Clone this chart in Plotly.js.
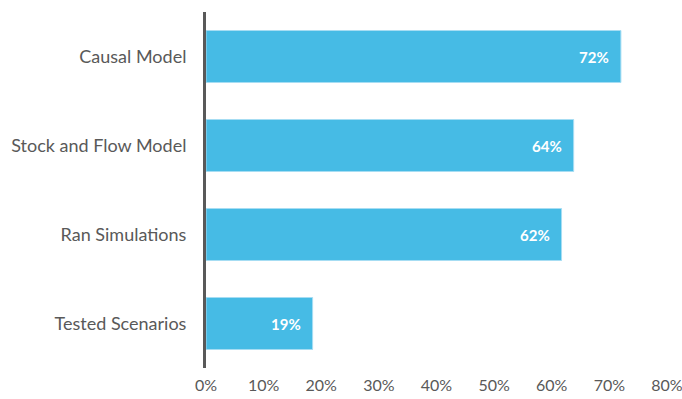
<!DOCTYPE html>
<html>
<head>
<meta charset="utf-8">
<script src="https://cdn.plot.ly/plotly-3.0.1.min.js"></script>
<style>html,body{margin:0;padding:0;background:#fff;}#chart{width:682px;height:399px;}</style>
</head>
<body>
<div id="chart"></div>
<script>
const categories = ["Causal Model", "Stock and Flow Model", "Ran Simulations", "Tested Scenarios"];
const values = [0.72, 0.638, 0.617, 0.185];
const valueLabels = ["72%", "64%", "62%", "19%"];
const tickVals = [0, 0.1, 0.2, 0.3, 0.4, 0.5, 0.6, 0.7, 0.8];
const tickText = ["0%", "10%", "20%", "30%", "40%", "50%", "60%", "70%", "80%"];

const font = "Lato, 'Open Sans', sans-serif";
const trace = {
  type: "bar",
  orientation: "h",
  x: values,
  y: categories,
  marker: {color: "#46BBE5", line: {color: "#A6DDF3", width: 1}},
  hoverinfo: "none"
};
const annotations = categories.map((c, i) => ({
  x: values[i], y: c, xref: "x", yref: "y",
  text: "<b>" + valueLabels[i] + "</b>",
  showarrow: false, xanchor: "right", xshift: -10,
  font: {family: font, size: 15, color: "#FFFFFF"}
}));
const layout = {
  width: 682, height: 399,
  margin: {l: 206, r: 15, t: 12, b: 31},
  paper_bgcolor: "#FFFFFF", plot_bgcolor: "#FFFFFF",
  showlegend: false,
  bargap: 0.416,
  font: {family: font, color: "#595959"},
  xaxis: {
    range: [0, 0.8], tickvals: tickVals, ticktext: tickText,
    showgrid: false, zeroline: false, showline: false, ticks: "",
    ticklabelstandoff: 6, ticklabeloverflow: "allow",
    tickfont: {size: 16, color: "#595959"}, fixedrange: true
  },
  yaxis: {
    autorange: "reversed", showgrid: false, zeroline: false,
    showline: true, linecolor: "#595959", linewidth: 3, ticks: "",
    ticklabelstandoff: 13,
    tickfont: {size: 18, color: "#595959"}, fixedrange: true
  },
  annotations: annotations
};
Plotly.newPlot("chart", [trace], layout, {displayModeBar: false, staticPlot: true});
</script>
</body>
</html>
